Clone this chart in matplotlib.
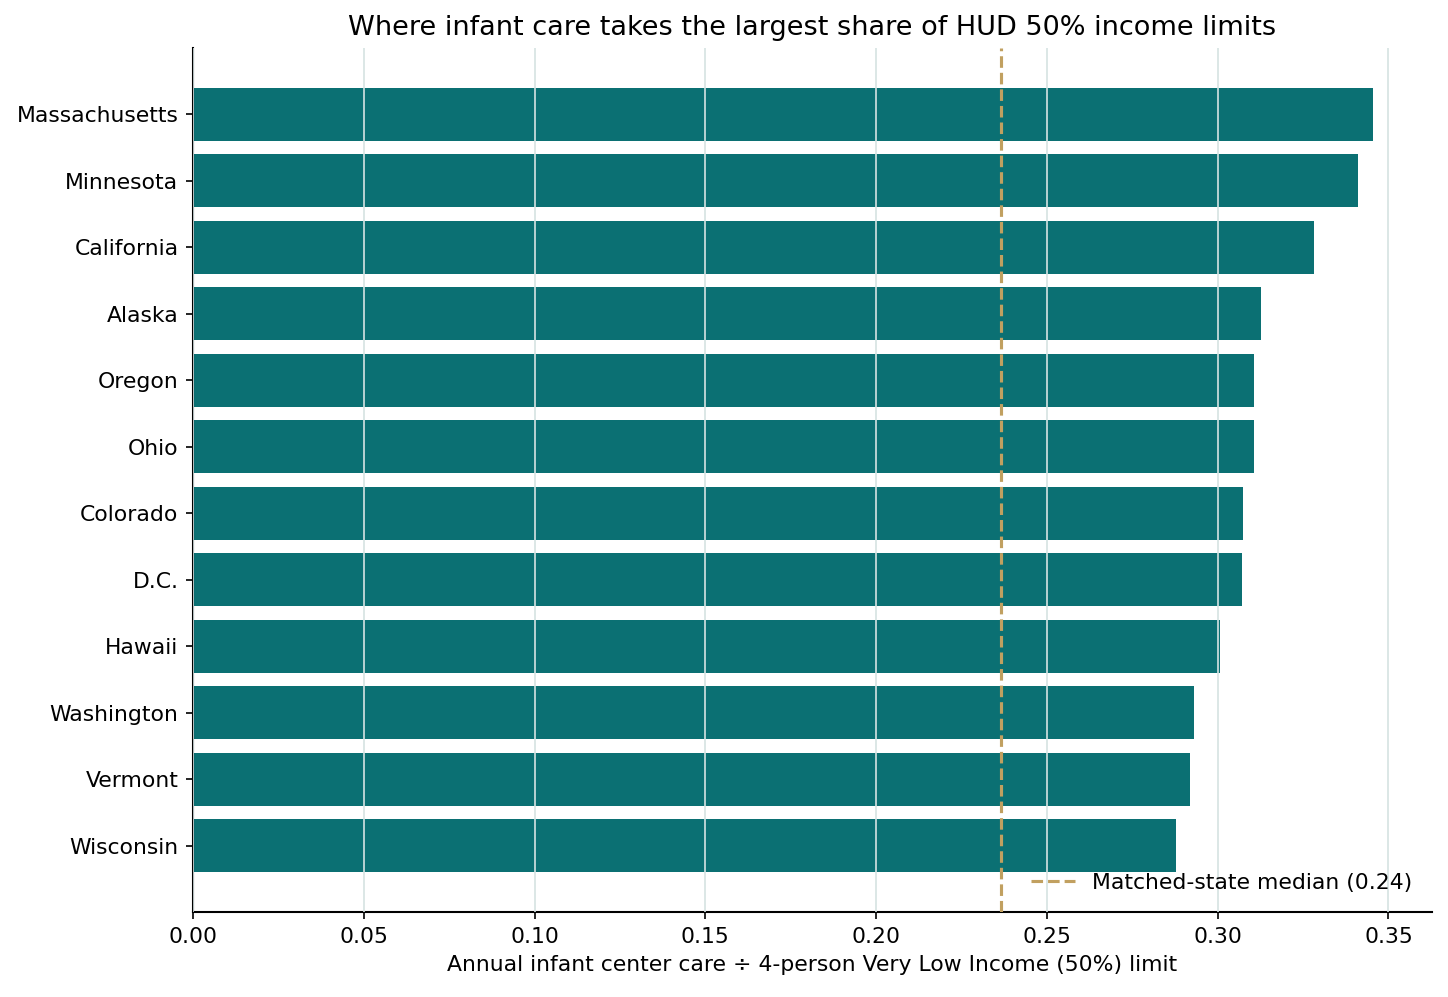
import matplotlib.pyplot as plt
import numpy as np

# States ranked by share of HUD 50% income limit spent on infant center care
states = ['Massachusetts', 'Minnesota', 'California', 'Alaska', 'Oregon', 'Ohio',
          'Colorado', 'D.C.', 'Hawaii', 'Washington', 'Vermont', 'Wisconsin']
shares = [0.3455, 0.3412, 0.3283, 0.3128, 0.3107, 0.3105,
          0.3073, 0.3070, 0.3007, 0.2932, 0.2920, 0.2879]
median_share = 0.2365

bar_color = '#0b7073'
median_color = '#c1a060'

plt.rcParams['font.size'] = 10.5
plt.rcParams['axes.linewidth'] = 1.0

fig, ax = plt.subplots(figsize=(1448 / 150, 997 / 150), dpi=150)

y = np.arange(len(states))
ax.barh(y, shares, height=0.8, color=bar_color, zorder=2)
ax.axvline(median_share, color=median_color, linestyle='--', linewidth=1.5,
           zorder=4, label=f'Matched-state median ({median_share:.2f})')

ax.set_yticks(y)
ax.set_yticklabels(states)
ax.set_ylim(len(states), -1)
ax.set_xlim(0, None)

ax.grid(axis='x', color='#d5e3e2', linewidth=0.8, zorder=3)
ax.set_axisbelow(False)
ax.spines['top'].set_visible(False)
ax.spines['right'].set_visible(False)

ax.set_title('Where infant care takes the largest share of HUD 50% income limits', fontsize=13)
ax.set_xlabel('Annual infant center care ÷ 4-person Very Low Income (50%) limit')
ax.legend(loc='lower right', frameon=False)

plt.subplots_adjust(left=0.1333, right=0.989, top=0.952, bottom=0.085)
plt.savefig('out.png', dpi=150)
plt.close()
